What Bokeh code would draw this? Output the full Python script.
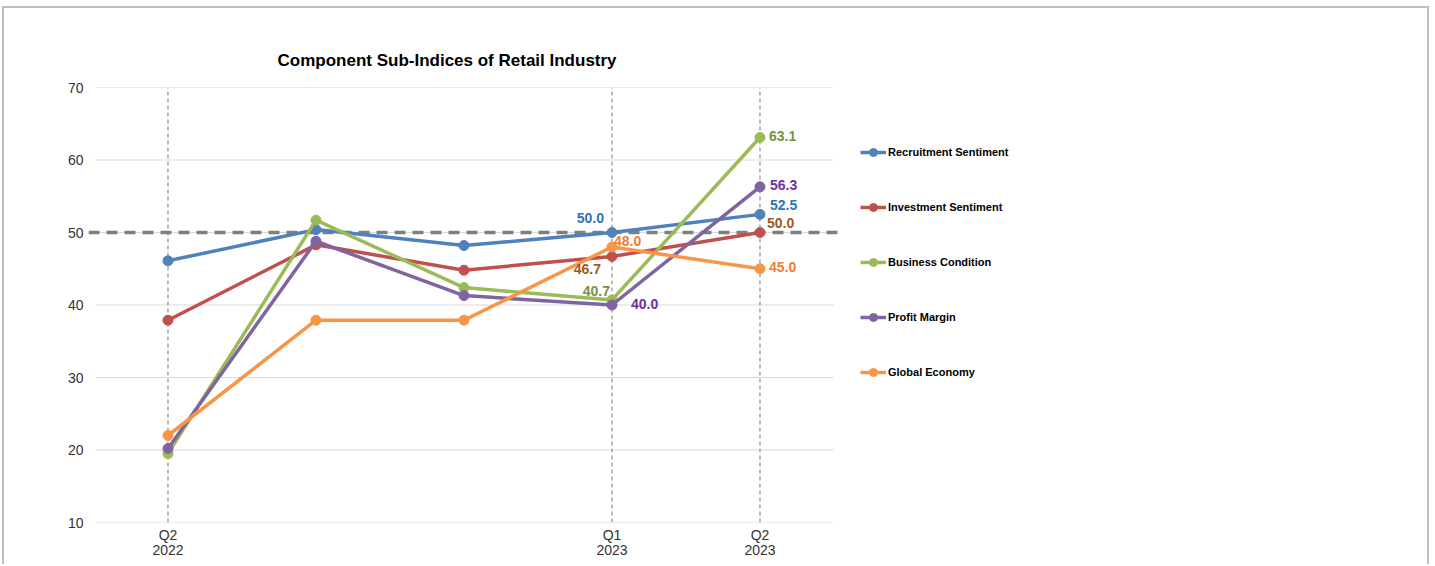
from bokeh.plotting import figure
from bokeh.models import ColumnDataSource, Legend, LegendItem, FixedTicker, Range1d
from bokeh.core.properties import value
from bokeh.embed import file_html
from bokeh.resources import INLINE

# ---------------- data ----------------
quarters = ["Q2\n2022", "Q3\n2022", "Q4\n2022", "Q1\n2023", "Q2\n2023"]
x_idx = [0, 1, 2, 3, 4]
shown_ticks = [0, 3, 4]

recruitment = [46.1, 50.4, 48.2, 50.0, 52.5]
investment = [37.9, 48.3, 44.8, 46.7, 50.0]
business = [19.5, 51.7, 42.4, 40.7, 63.1]
profit = [20.2, 48.8, 41.3, 40.0, 56.3]
global_economy = [22.0, 37.9, 37.9, 48.0, 45.0]

series_names = ["Recruitment Sentiment", "Investment Sentiment", "Business Condition",
                "Profit Margin", "Global Economy"]
series_values = [recruitment, investment, business, profit, global_economy]
threshold = 50
y_ticks = [10, 20, 30, 40, 50, 60, 70]

# ---------------- styles ----------------
line_colors = ["#4F81BD", "#C0504D", "#9BBB59", "#8064A2", "#F79646"]
label_colors = ["#2E75B6", "#9C5A1F", "#77933C", "#7030A0", "#ED7D31"]
# label offsets (screen px) for the Q1 2023 (index 3) and Q2 2023 (index 4) points
label_style = {
    3: [(-8, -15, "right"), (-11, 13, "right"), (-2, -9, "right"), (19, -1, "left"), (2, -6, "left")],
    4: [(10, -9, "left"), (7, -10, "left"), (9, -2, "left"), (10, -2, "left"), (9, -2, "left")],
}
FONT = "Liberation Sans"

# plot frame spans the chart area and the legend; the x scale keeps 148 px per quarter
X_START = -0.537
PX_PER_UNIT = 148.0
FRAME_W = 1427 - 84 - 40
X_END = X_START + FRAME_W / PX_PER_UNIT
GRID_X0, GRID_X1 = -0.49, 4.497
THR_X0, THR_X1 = -0.537, 4.564

p = figure(width=1427, height=558, output_backend="svg", toolbar_location=None,
           x_range=Range1d(X_START, X_END), y_range=Range1d(10, 70),
           min_border_left=84, min_border_right=40, min_border_top=79, min_border_bottom=44,
           background_fill_color="white", border_fill_color="white")
p.outline_line_color = None
p.grid.visible = False
p.styles = {"margin-left": "2px", "margin-top": "6px",
            "border-left": "2px solid #BFBFBF", "border-top": "2px solid #BFBFBF",
            "border-right": "2px solid #BFBFBF"}

# title
p.title.text = "Component Sub-Indices of Retail Industry"
p.title.text_font = FONT
p.title.text_font_size = "17px"
p.title.text_font_style = "bold"
p.title.text_color = "#000000"
p.title.align = "left"
p.title.offset = 189
p.title.standoff = 36

# axes
p.xaxis.ticker = FixedTicker(ticks=shown_ticks)
p.xaxis.major_label_overrides = {i: quarters[i] for i in shown_ticks}
p.yaxis.ticker = FixedTicker(ticks=y_ticks)
for ax in (p.xaxis, p.yaxis):
    ax.axis_line_color = None
    ax.major_tick_line_color = None
    ax.minor_tick_line_color = None
    ax.major_tick_out = 0
    ax.major_tick_in = 0
    ax.major_label_text_font = FONT
    ax.major_label_text_font_size = "14px"
    ax.major_label_text_color = "#333333"
p.xaxis.major_label_text_line_height = 0.95
p.xaxis.major_label_standoff = 4
p.yaxis.major_label_standoff = 5

# horizontal grid lines
p.segment(x0=[GRID_X0] * len(y_ticks), x1=[GRID_X1] * len(y_ticks), y0=y_ticks, y1=y_ticks,
          line_color="#D9D9D9", line_width=1)
# vertical dashed lines at labelled quarters
p.segment(x0=shown_ticks, x1=shown_ticks, y0=[y_ticks[0]] * 3, y1=[y_ticks[-1]] * 3,
          line_color="#A6A6A6", line_width=1.5, line_dash="4 3")
# threshold line
p.segment(x0=[THR_X0], x1=[THR_X1], y0=[threshold], y1=[threshold],
          line_color="#7F7F7F", line_width=3.5, line_dash="11 7")

items = []
for name, vals, col in zip(series_names, series_values, line_colors):
    r1 = p.line(x_idx, vals, line_color=col, line_width=3.5)
    r2 = p.scatter(x_idx, vals, size=10, fill_color=col, line_color=col)
    items.append(LegendItem(label=name, renderers=[r1, r2]))

# data labels
lx, ly, lt, lc, lxo, lyo, la = [], [], [], [], [], [], []
for idx, styles in label_style.items():
    for s, (xo, yo, al) in enumerate(styles):
        v = series_values[s][idx]
        lx.append(x_idx[idx]); ly.append(v); lt.append(f"{v:.1f}")
        lc.append(label_colors[s]); lxo.append(xo); lyo.append(yo); la.append(al)
src = ColumnDataSource(dict(x=lx, y=ly, text=lt, color=lc, xo=lxo, yo=lyo, align=la))
p.text(x="x", y="y", text="text", source=src, text_color="color", x_offset="xo", y_offset="yo",
       text_align="align", text_baseline="middle", text_font=value(FONT),
       text_font_size="14px", text_font_style="bold")

legend = Legend(items=items, location=(772, 140), orientation="vertical",
                label_text_font=FONT, label_text_font_size="11px", label_text_font_style="bold",
                label_text_color="#000000", glyph_width=26, glyph_height=20, label_height=20,
                label_standoff=2, spacing=35, padding=0, margin=0,
                border_line_color=None, background_fill_alpha=0)
p.add_layout(legend, "center")

open("out.html", "w").write(file_html(p, INLINE))
